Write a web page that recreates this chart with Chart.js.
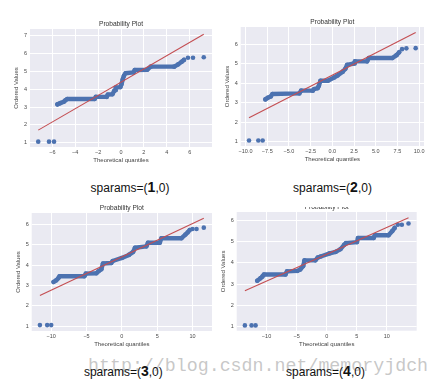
<!DOCTYPE html>
<html><head><meta charset="utf-8">
<script src="https://cdn.jsdelivr.net/npm/chart.js@4/dist/chart.umd.min.js"></script>
<style>
html,body{margin:0;padding:0;background:#fff;width:440px;height:386px;overflow:hidden;position:relative;}
.clip{position:absolute;overflow:hidden;}
.clip canvas{position:absolute;filter:blur(0.35px);}
.cap{position:absolute;font-family:"Liberation Sans",Arial,sans-serif;font-size:12px;color:#111;white-space:nowrap;transform:translate(-50%,-50%);line-height:1;z-index:3}
.cap b{font-size:14px}
.wm{position:absolute;left:88px;top:357px;font-family:"Liberation Mono",monospace;font-size:18.3px;color:rgba(175,175,175,0.7);white-space:nowrap;line-height:1;z-index:2}
</style></head><body>
<div class="wm">http://blog.csdn.net/memoryjdch</div>
<script>
// ---- text ----
const plotTitle = "Probability Plot";
const xTitle = "Theoretical quantiles";
const yTitle = "Ordered Values";
const captionParams = ["1", "2", "3", "4"];

// ---- panel 1 (sparams=(1,0)) ----
const p1BandX = [-5.56,-5.3,-5.0,-4.85,-4.7,-2.3,-2.2,-1.25,-1.15,-0.75,-0.6,-0.5,-0.45,-0.05,0.05,0.15,0.25,0.4,1.1,1.2,2.3,2.6,4.65,5.0,5.3,5.5];
const p1BandY = [3.15,3.22,3.3,3.38,3.45,3.45,3.57,3.57,3.7,3.72,3.9,3.95,4.1,4.12,4.3,4.55,4.75,4.9,4.95,5.08,5.1,5.27,5.27,5.4,5.55,5.65];
const p1TailX = [-7.23,-6.29,-5.85,5.85,6.29,7.23];
const p1TailY = [1.05,1.05,1.05,5.77,5.77,5.8];
const p1FitX = [-7.23, 7.23];
const p1FitY = [1.70, 7.09];
const p1XTickLabels = ["\u22126","\u22124","\u22122","0","2","4","6"];
const p1YTickLabels = ["1","2","3","4","5","6","7"];

// ---- panel 2 (sparams=(2,0)) ----
const p2BandX = [-7.72,-7.45,-7.1,-6.9,-3.8,-3.6,-2.26,-2.1,-1.7,-1.55,-1.37,-0.52,0.2,0.6,1.2,1.5,1.7,2.5,2.6,4.0,4.2,6.9,7.4,7.7];
const p2BandY = [3.17,3.25,3.32,3.45,3.48,3.62,3.62,3.7,3.75,3.88,4.13,4.13,4.3,4.4,4.6,4.75,4.95,5.02,5.13,5.13,5.3,5.3,5.45,5.6];
const p2TailX = [-9.6,-8.53,-8.03,8.03,8.53,9.6];
const p2TailY = [1.05,1.05,1.05,5.76,5.8,5.81];
const p2FitX = [-9.6, 9.6];
const p2FitY = [2.22, 6.62];
const p2XTickLabels = ["\u221210.0","\u22127.5","\u22125.0","\u22122.5","0.0","2.5","5.0","7.5","10.0"];
const p2YTickLabels = ["1","2","3","4","5","6"];

// ---- panel 3 (sparams=(3,0)) ----
const p3BandX = [-9.67,-9.29,-9.0,-8.82,-5.3,-5.1,-3.6,-3.3,-2.9,-2.67,-1.5,-1.3,0,1.0,1.6,1.85,3.47,3.7,5.37,5.6,8.44,9.0,9.3,9.6];
const p3BandY = [3.17,3.25,3.35,3.45,3.45,3.58,3.6,3.7,3.8,4.08,4.1,4.2,4.35,4.5,4.65,4.85,4.92,5.1,5.1,5.32,5.32,5.5,5.6,5.72];
const p3TailX = [-11.6,-10.57,-10.0,10.0,10.57,11.6];
const p3TailY = [1.05,1.05,1.05,5.77,5.77,5.84];
const p3FitX = [-11.6, 11.6];
const p3FitY = [2.51, 6.30];
const p3XTickLabels = ["\u221210","\u22125","0","5","10"];
const p3YTickLabels = ["1","2","3","4","5","6"];

// ---- panel 4 (sparams=(4,0)) ----
const p4BandX = [-11.55,-11.0,-10.7,-10.44,-6.85,-6.6,-4.92,-4.4,-3.9,-3.7,-1.88,-1.5,-1.0,0.5,1.5,2.3,2.9,3.2,5.03,5.2,7.8,8.0,10.28,10.9,11.3];
const p4BandY = [3.16,3.28,3.35,3.45,3.45,3.6,3.62,3.69,3.85,4.12,4.12,4.25,4.3,4.45,4.52,4.65,4.85,4.93,4.98,5.17,5.17,5.3,5.3,5.5,5.65];
const p4TailX = [-13.6,-12.49,-11.82,11.82,12.49,13.6];
const p4TailY = [1.05,1.05,1.05,5.8,5.8,5.86];
const p4FitX = [-13.6, 13.6];
const p4FitY = [2.68, 6.13];
const p4XTickLabels = ["\u221210","\u22125","0","5","10"];
const p4YTickLabels = ["1","2","3","4","5","6"];

// ---- styling / layout ----
const FAMILY = '"Liberation Sans", Arial, sans-serif';
const BLUE = '#4c72b0', RED = '#c44e52', BG = '#eaeaf2', TXT = '#4a4a4a';
const num = s => parseFloat(s.replace('\u2212','-'));
const pts = (xs, ys) => xs.map((x, i) => ({x, y: ys[i]}));

const panels = [
  {bandX:p1BandX,bandY:p1BandY,tailX:p1TailX,tailY:p1TailY,fitX:p1FitX,fitY:p1FitY,xl:p1XTickLabels,yl:p1YTickLabels,
   rect:{l:30,t:29,r:212,b:147}, xr:[-7.95,7.95], yr:[0.75,7.39], clip:[0,0,220,163]},
  {bandX:p2BandX,bandY:p2BandY,tailX:p2TailX,tailY:p2TailY,fitX:p2FitX,fitY:p2FitY,xl:p2XTickLabels,yl:p2YTickLabels,
   rect:{l:240.7,t:27,r:424,b:146}, xr:[-10.56,10.56], yr:[0.77,6.9], clip:[220,0,220,163]},
  {bandX:p3BandX,bandY:p3BandY,tailX:p3TailX,tailY:p3TailY,fitX:p3FitX,fitY:p3FitY,xl:p3XTickLabels,yl:p3YTickLabels,
   rect:{l:31.7,t:213,r:212,b:331}, xr:[-12.76,12.76], yr:[0.76,6.56], clip:[0,198,220,156]},
  {bandX:p4BandX,bandY:p4BandY,tailX:p4TailX,tailY:p4TailY,fitX:p4FitX,fitY:p4FitY,xl:p4XTickLabels,yl:p4YTickLabels,
   rect:{l:236.7,t:212,r:416.7,b:330.7}, xr:[-14.96,14.96], yr:[0.80,6.40], clip:[220,207,220,147]}
];
const captions = [[130,186.5],[332.5,186.5],[123.3,370.5],[325.5,370.5]];

const bgPlugin = {id:'bg', beforeDraw(c){const a=c.chartArea;const x=c.ctx;x.save();x.fillStyle=BG;x.fillRect(a.left,a.top,a.right-a.left,a.bottom-a.top);x.restore();}};

const Y_W = 17, X_H = 17, T_SIZE = 6.6, T_PB = 1;
const T_H = T_SIZE*1.2 + T_PB;

panels.forEach((p, k) => {
  const r = p.rect;
  const cl = Math.floor(r.l - Y_W), ct = Math.floor(r.t - T_H);
  const cr = Math.ceil(r.r + 10), cb = Math.ceil(r.b + X_H);
  const wrap = document.createElement('div');
  wrap.className = 'clip';
  wrap.style.left = p.clip[0]+'px'; wrap.style.top = p.clip[1]+'px';
  wrap.style.width = p.clip[2]+'px'; wrap.style.height = p.clip[3]+'px';
  const cv = document.createElement('canvas');
  cv.width = cr - cl; cv.height = cb - ct;
  cv.style.width = (cr-cl)+'px'; cv.style.height = (cb-ct)+'px';
  cv.style.left = (cl - p.clip[0])+'px'; cv.style.top = (ct - p.clip[1])+'px';
  wrap.appendChild(cv); document.body.appendChild(wrap);
  const xVals = p.xl.map(num), yVals = p.yl.map(num);
  new Chart(cv, {
    type: 'scatter',
    data: { datasets: [
      {data: pts(p.fitX, p.fitY), showLine:true, borderColor:RED, borderWidth:1.1, pointRadius:0},
      {data: pts(p.tailX, p.tailY), pointRadius:2.3, backgroundColor:BLUE, borderWidth:0, showLine:false},
      {data: pts(p.bandX, p.bandY), showLine:true, borderColor:BLUE, borderWidth:4.4, borderCapStyle:'round', borderJoinStyle:'round',
       pointRadius:2.3, backgroundColor:BLUE, pointBorderWidth:0}
    ]},
    options: {
      responsive:false, animation:false, devicePixelRatio:1,
      layout:{padding:{left:r.l - Y_W - cl, top:r.t - T_H - ct, right:cr - r.r, bottom:cb - r.b - X_H}},
      plugins:{legend:{display:false}, tooltip:{enabled:false},
        title:{display:true, text:plotTitle, fullSize:false, color:'#333', font:{family:FAMILY,size:T_SIZE,weight:'normal'}, padding:{top:0,bottom:T_PB}}},
      scales:{
        x:{type:'linear', position:'bottom', min:p.xr[0], max:p.xr[1],
          afterFit:s=>{s.height=X_H;},
          afterBuildTicks:s=>{s.ticks=xVals.map(v=>({value:v}));},
          ticks:{callback:(v)=>p.xl[xVals.indexOf(v)], font:{family:FAMILY,size:5.5}, color:TXT, padding:2.5, maxRotation:0, autoSkip:false},
          grid:{color:'#ffffff', lineWidth:1, drawTicks:false}, border:{display:false},
          title:{display:true, text:xTitle, color:'#444', font:{family:FAMILY,size:6}, padding:0}},
        y:{type:'linear', position:'left', min:p.yr[0], max:p.yr[1],
          afterFit:s=>{s.width=Y_W;},
          afterBuildTicks:s=>{s.ticks=yVals.map(v=>({value:v}));},
          ticks:{callback:(v)=>p.yl[yVals.indexOf(v)], font:{family:FAMILY,size:5.5}, color:TXT, padding:3, autoSkip:false},
          grid:{color:'#ffffff', lineWidth:1, drawTicks:false}, border:{display:false},
          title:{display:true, text:yTitle, color:'#444', font:{family:FAMILY,size:6}, padding:0}}
      }
    },
    plugins:[bgPlugin]
  });
  const cap = document.createElement('div');
  cap.className = 'cap';
  cap.style.left = captions[k][0]+'px'; cap.style.top = captions[k][1]+'px';
  cap.innerHTML = 'sparams=(<b>' + captionParams[k] + '</b>,0)';
  document.body.appendChild(cap);
});
</script>
</body></html>
